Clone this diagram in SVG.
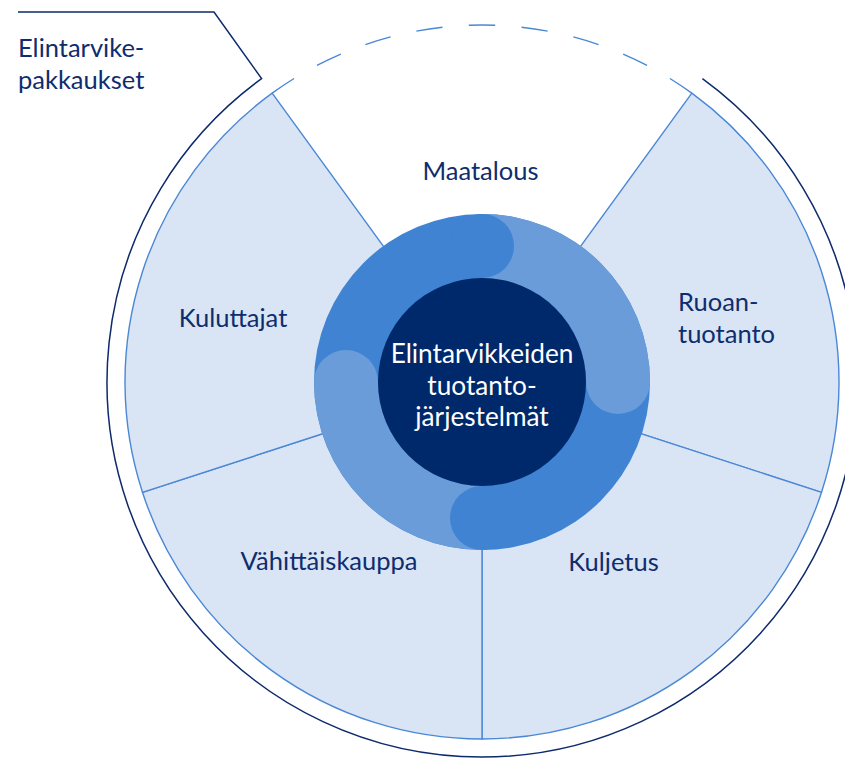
<svg xmlns="http://www.w3.org/2000/svg" width="845" height="758" viewBox="0 0 845 758">
<style>
.sec{fill:#d9e4f4;stroke:#4a88d6;stroke-width:1.4;stroke-linejoin:round}
.lbl{font-family:Lato,"Noto Sans",sans-serif;font-size:25.5px;fill:#0f2d6e}
.ctr{font-family:Lato,"Noto Sans",sans-serif;font-size:26.2px;fill:#ffffff;text-anchor:middle}
.mid{text-anchor:middle}
.ringA{fill:#3f83d2}
.ringB{fill:#6a9cda}
</style>
<rect width="845" height="758" fill="#ffffff"/>
<g id="outer-packaging">
<path d="M18,12 L214,12 L261.58,78.62 A375,375 0 1 0 702.42,78.62" fill="none" stroke="#0d2a6b" stroke-width="1.5"/>
<text class="lbl" x="18" y="57">Elintarvike-</text>
<text class="lbl" x="18" y="88.5">pakkaukset</text>
</g>
<g id="maatalous">
<path d="M272.16,93.18 A357,357 0 0 1 691.84,93.18" fill="none" stroke="#4a88d6" stroke-width="1.4" pathLength="17" stroke-dasharray="1 1"/>
<text class="lbl mid" x="480.5" y="179.5">Maatalous</text>
</g>
<g id="ruoantuotanto">
<path class="sec" d="M482,382 L691.84,93.18 A357,357 0 0 1 821.53,492.32 Z"/>
<text class="lbl" x="678" y="311">Ruoan-</text>
<text class="lbl" x="678" y="343">tuotanto</text>
</g>
<g id="kuljetus">
<path class="sec" d="M482,382 L821.53,492.32 A357,357 0 0 1 482,739 Z"/>
<text class="lbl mid" x="613.5" y="570.5">Kuljetus</text>
</g>
<g id="vahittaiskauppa">
<path class="sec" d="M482,382 L482,739 A357,357 0 0 1 142.47,492.32 Z"/>
<text class="lbl mid" x="329" y="570">Vähittäiskauppa</text>
</g>
<g id="kuluttajat">
<path class="sec" d="M482,382 L142.47,492.32 A357,357 0 0 1 272.16,93.18 Z"/>
<text class="lbl mid" x="233" y="326.5">Kuluttajat</text>
</g>
<g id="ring">
<circle class="ringA" cx="482" cy="382" r="168"/>
<path class="ringB" d="M482,214 A168,168 0 0 1 650,382 L586,382 A104,104 0 0 0 482,278 Z"/>
<path class="ringB" d="M482,550 A168,168 0 0 1 314,382 L378,382 A104,104 0 0 0 482,486 Z"/>
<circle class="ringA" cx="482" cy="246" r="32"/>
<circle class="ringA" cx="482" cy="518" r="32"/>
<circle class="ringB" cx="618" cy="382" r="32"/>
<circle class="ringB" cx="346" cy="382" r="32"/>
</g>
<g id="center">
<circle cx="482" cy="382" r="104" fill="#00296b"/>
<text class="ctr" x="482" y="362.5">Elintarvikkeiden</text>
<text class="ctr" x="482" y="394.5">tuotanto-</text>
<text class="ctr" x="482" y="426">järjestelmät</text>
</g>
</svg>
